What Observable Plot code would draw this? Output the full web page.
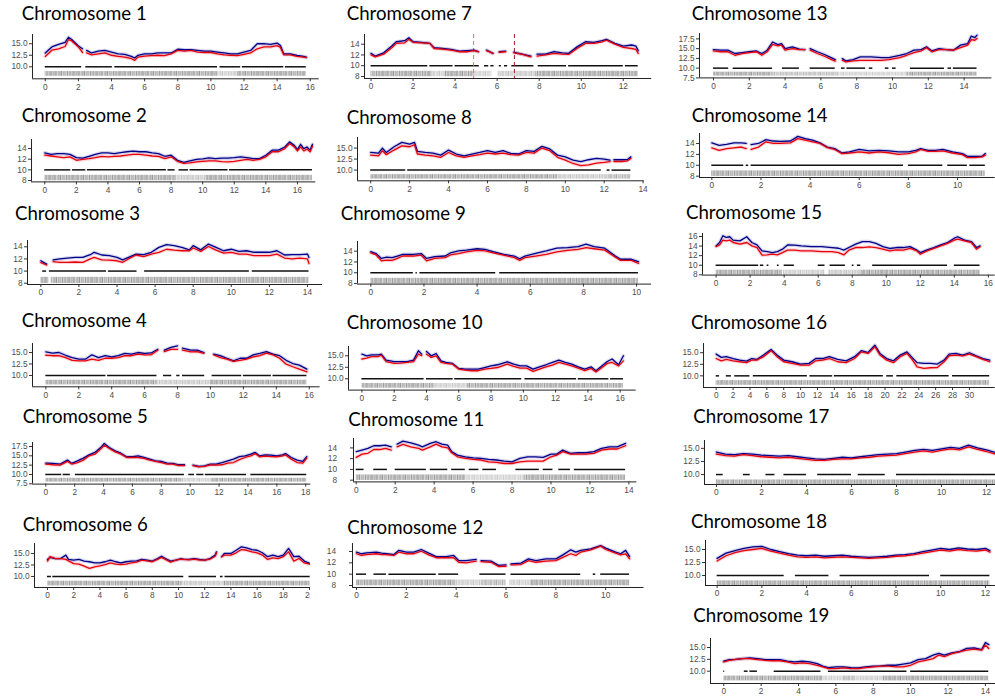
<!DOCTYPE html>
<html>
<head>
<meta charset="utf-8">
<script src="https://cdn.jsdelivr.net/npm/d3@7"></script>
<script src="https://cdn.jsdelivr.net/npm/@observablehq/plot@0.6"></script>
<style>
  body { margin: 0; background: #fff; }
  #chart { position: relative; width: 995px; height: 698px; overflow: hidden; background: #fff; }
  #chart > svg.panel { position: absolute; }
  #titles { position: absolute; left: 0; top: 0; pointer-events: none; }
  #titles text { font-family: Lato, "Open Sans", sans-serif; font-size: 18.6px; fill: #000; }
</style>
</head>
<body>
<div id="chart"></div>
<script>
// ---- tick values ----
const xTicks10 = [0, 2, 4, 6, 8, 10];
const xTicks12 = [0, 2, 4, 6, 8, 10, 12];
const xTicks14 = [0, 2, 4, 6, 8, 10, 12, 14];
const xTicks16 = [0, 2, 4, 6, 8, 10, 12, 14, 16];
const xTicks18 = [0, 2, 4, 6, 8, 10, 12, 14, 16, 18];
const xTicks20 = [0, 2, 4, 6, 8, 10, 12, 14, 16, 18, 20];
const xTicks30 = [0, 2, 4, 6, 8, 10, 12, 14, 16, 18, 20, 22, 24, 26, 28, 30];
const yTicksEven = [8, 10, 12, 14];
const yTicksEven16 = [8, 10, 12, 14, 16];
const yTicksHalf = [10, 12.5, 15];
const yTicksHalfWide = [7.5, 10, 12.5, 15, 17.5];

// ---- chromosome 1 ----
const chr1Pos = [0,0.4,0.8,1.2,1.4,1.6,2.0,2.25,2.37,2.5, 2.8,3.2,3.6,4.0,4.4,4.8,5.2,5.4,5.6,6.0, 6.4,6.8,7.2,7.6,8.0,8.4,8.8,9.2,9.6,10.0, 10.4,10.8,11.2,11.6,12.0,12.4,12.8,13.2,13.6,14.0, 14.2,14.4,14.8,15.2,15.6,15.76];
const chr1Blue = [13.0,14.3,14.85,15.3,16.4,15.9,14.5,13.9,null,13.55, 13.0,13.4,13.55,13.2,12.8,12.7,12.25,11.9,12.5,12.8, 12.8,13.0,13.0,13.0,13.8,13.7,13.7,13.55,13.4,13.4, 13.2,13.0,12.8,12.8,13.2,13.55,15.0,15.0,14.85,15.15, 14.6,12.8,12.8,12.45,12.25,12.1];
const chr1Red = [12.25,13.6,13.9,14.4,15.9,15.6,14.3,13.1,null,13.0, 12.6,12.8,13.0,12.5,12.25,12.1,11.75,11.4,12.1,12.3, 12.4,12.5,12.4,12.8,13.55,13.4,13.55,13.2,13.1,13.1, 12.8,12.6,12.5,12.4,12.7,13.0,13.9,14.3,14.3,14.6, 14.2,12.6,12.6,12.25,12.1,12.0];
const chr1Dash = [[0,2.2],[2.45,4.05],[4.2,10.4],[10.55,11.8],[11.9,14.4],[14.5,15.76]];
const chr1Rug = [[0,10.4,1],[10.4,11.6,0.55],[11.6,15.76,1]];

// ---- chromosome 2 ----
const chr2Pos = [0,0.4,0.8,1.2,1.6,2.0,2.4,2.8,3.2,3.6, 4.0,4.4,4.8,5.2,5.6,6.0,6.4,6.8,7.2,7.6, 8.0,8.4,8.8,9.2,9.6,10.0,10.4,10.8,11.2,11.6, 12.0,12.4,12.8,13.2,13.6,14.0,14.4,14.8,15.2, 15.5,15.8,16.0,16.2,16.4,16.6,16.8,16.95];
const chr2Blue = [13.2,12.9,13.05,13.05,12.9,12.3,12.2,12.55,12.9,13.2, 13.2,13.05,13.25,13.4,13.5,13.4,13.4,13.2,13.05,12.55, 12.75,11.8,11.4,11.7,11.95,12.05,12.25,12.1,12.2,12.2, 12.3,12.45,12.3,12.1,12.1,12.75,13.7,13.7,14.3, 15.25,14.6,13.8,14.8,14.0,14.3,13.7,14.8];
const chr2Red = [12.75,12.6,12.45,12.3,12.45,11.8,11.95,12.1,12.3,12.55, 12.45,12.55,12.6,12.75,12.9,12.9,12.75,12.6,12.55,12.1, 12.45,11.6,11.2,11.3,11.5,11.6,11.7,11.7,11.55,11.5, 11.6,11.8,11.95,11.8,11.95,12.45,13.4,13.4,14.0, 14.95,14.3,13.55,14.3,13.55,13.9,13.4,14.45];
const chr2Dash = [[0,1.65],[1.75,2.6],[2.7,7.7],[7.8,8.25],[8.5,9.1],[9.2,11.6],[11.7,16.95]];
const chr2Rug = [[0,8.3,1],[8.3,10.2,0.6],[10.2,16.95,1]];

// ---- chromosome 3 ----
const chr3Pos = [0,0.3,0.5,0.65,1.0,1.4,1.8,2.2,2.6,2.8, 3.2,3.6,4.0,4.3,4.6,5.0,5.4,5.8,6.2,6.6, 7.0,7.4,7.8,8.0,8.4,8.8,9.2,9.6,10.0,10.4, 10.8,11.2,11.6,12.0,12.4,12.8,13.2,13.6,14.0,14.08];
const chr3Blue = [11.7,11.15,null,11.85,12.0,12.15,12.25,12.25,12.7,13.1, 12.65,12.55,12.25,11.85,12.25,12.8,12.7,13.1,13.9,14.35, 14.2,13.9,13.5,14.2,13.5,14.45,13.9,13.35,13.6,13.25, 13.35,13.1,13.1,13.1,13.35,12.65,12.7,12.7,12.8,12.25];
const chr3Red = [11.4,11.0,null,11.55,11.45,11.45,11.5,11.45,12.0,12.25, 11.85,11.8,11.7,11.45,12.0,12.65,12.4,12.8,13.1,13.6, 13.45,13.35,13.35,13.8,13.25,14.05,13.45,12.95,13.1,12.8, 12.8,12.55,12.55,12.55,12.8,12.15,12.0,12.15,12.0,11.25];
const chr3Dash = [[0.1,0.3],[0.45,3.45],[3.55,5.05],[5.45,10.95],[11.1,14.08]];
const chr3Rug = [[0,0.42,1],[0.55,14.08,1]];

// ---- chromosome 4 ----
const chr4Pos = [0,0.4,0.8,1.2,1.6,2.0,2.4,2.8,3.2,3.6, 4.0,4.4,4.8,5.2,5.6,6.0,6.4,6.8,7.0,7.2, 7.6,8.0,8.15,8.3,8.8,9.2,9.6,9.9,10.2,10.6, 11.0,11.4,11.8,12.2,12.6,13.0,13.4,13.8,14.2,14.6, 15.0,15.4,15.86];
const chr4Blue = [15.15,14.85,15.0,14.4,13.9,13.55,13.55,14.5,13.9,14.3, 14.05,14.3,14.8,14.65,15.0,14.8,14.9,15.7,null,15.5, 16.1,16.45,null,15.95,15.5,15.5,15.0,null,14.65,14.3, 13.75,13.2,13.75,13.75,14.5,14.8,15.2,14.65,14.3,13.3, 12.6,12.25,11.4];
const chr4Red = [14.4,14.3,14.3,13.9,13.3,13.2,13.2,13.55,13.3,13.75, 13.75,13.9,14.3,14.3,14.65,14.5,14.5,15.5,null,15.2, 15.7,15.7,null,15.5,15.15,15.2,14.8,null,14.5,13.9, 13.55,13.05,13.3,13.55,14.05,14.3,14.85,14.5,13.75,12.45, 11.9,11.4,10.8];
const chr4Dash = [[0,3.65],[3.75,6.75],[7.15,7.65],[7.95,8.15],[8.3,9.65],[10.1,11.9],[12.0,13.7],[13.8,15.86]];
const chr4Rug = [[0,6.8,1],[6.8,10,0.6],[10,15.86,1]];

// ---- chromosome 5 ----
const chr5Pos = [0,0.5,1.0,1.5,1.8,2.2,2.6,3.0,3.4,3.8, 4.05,4.4,4.8,5.2,5.6,6.0,6.4,6.8,7.2,7.6, 8.0,8.4,8.8,9.2,9.6,9.9,10.2,10.6,11.0,11.4, 11.8,12.2,12.6,13.0,13.4,13.8,14.2,14.5,14.8,15.2, 15.6,16.0,16.4,16.6,17.0,17.4,17.8,18.07];
const chr5Blue = [13.05,12.95,12.8,13.85,12.95,13.65,14.4,15.25,15.9,17.2, 18.3,17.2,16.35,15.7,14.75,14.75,15.0,14.55,14.1,13.65, 13.5,13.05,12.95,12.6,12.6,null,12.5,12.15,12.3,12.8, 12.8,13.2,13.65,14.1,14.8,15.0,15.45,15.9,15.0,15.25, 15.2,15.0,15.25,15.6,14.55,13.85,13.5,14.8];
const chr5Red = [12.8,12.6,12.5,13.5,12.8,13.2,13.85,15.0,15.45,16.8, 17.85,16.95,16.05,15.45,14.55,14.55,14.55,14.3,13.85,13.5, 13.2,12.8,12.8,12.4,12.4,null,12.4,12.05,12.15,12.6, 12.5,12.6,13.05,13.2,14.0,14.55,15.0,15.6,14.75,14.9, 14.8,14.75,15.0,15.25,14.1,13.2,13.05,14.4];
const chr5Dash = [[0,1.1],[1.2,1.7],[2.05,9.6],[9.9,10.3],[10.45,10.95],[11.05,13.9],[14.2,18.07]];
const chr5Rug = [[0,9.5,1],[9.5,11.5,0.55],[11.5,18.07,1]];

// ---- chromosome 6 ----
const chr6Pos = [0,0.2,0.6,1.0,1.4,1.6,2.0,2.4,2.8,3.2, 3.6,4.0,4.4,4.8,5.2,5.6,6.0,6.4,6.8,7.2, 7.6,8.0,8.4,8.7,9.0,9.4,9.8,10.2,10.4,10.8, 11.2,11.6,12.0,12.4,12.8,12.9,13.1,13.3,13.5,14.0, 14.4,14.8,15.2,15.6,16.0,16.4,16.8,17.2,17.6,18.0, 18.4,18.8,19.2,19.6,20.0];
const chr6Blue = [13.7,14.15,13.9,13.9,14.65,13.7,13.55,13.7,13.35,13.2, 12.95,12.95,13.2,13.55,13.2,12.95,13.2,13.35,13.4,13.7, 13.55,13.35,13.9,14.4,13.9,13.35,13.55,13.9,13.7,13.7, 13.9,13.7,13.55,13.9,14.65,15.35,null,14.3,15.0,15.0, 15.7,16.45,16.2,15.85,15.7,15.15,14.3,14.65,14.3,14.65, 16.1,14.3,14.4,13.35,12.85];
const chr6Red = [13.35,14.3,13.9,13.9,13.7,13.4,12.8,12.7,12.25,11.75, 12.1,12.3,12.6,12.95,12.7,12.6,12.7,12.95,13.1,13.55, 13.4,13.2,13.7,14.15,13.7,13.1,13.55,13.75,13.7,13.6, 13.75,13.55,13.55,13.75,14.4,15.15,null,14.3,14.65,14.65, 15.15,15.85,15.7,15.35,15.15,14.65,13.7,14.05,13.9,14.3, 15.35,13.35,13.9,12.95,12.7];
const chr6Dash = [[0,0.3],[0.4,10.4],[10.8,12.9],[13.2,13.4],[13.55,20.05]];
const chr6Rug = [[0,10.3,1],[10.3,13.5,0.6],[13.5,20.05,1]];

// ---- chromosome 7 ----
const chr7Pos = [0,0.2,0.6,1.0,1.2,1.6,1.8,2.0,2.4,2.8, 3.0,3.4,3.8,4.2,4.6,4.9,5.1,5.3,5.5,5.8, 5.95,6.1,6.4,6.6,6.8,7.2,7.6,7.75,7.9,8.3, 8.7,9.1,9.4,9.8,10.2,10.6,11.0,11.2,11.6,12.0, 12.4,12.6,12.71];
const chr7Blue = [12.3,11.8,12.4,13.7,14.45,14.65,15.2,14.45,14.35,14.15, 13.35,13.2,13.05,12.7,12.8,12.9,12.6,null,12.9,12.3, null,12.6,12.7,null,12.5,12.15,11.8,null,12.15,12.15, 12.6,12.4,12.3,13.5,14.45,14.35,14.65,14.9,14.15,13.65, 13.85,13.65,12.8];
const chr7Red = [12.0,11.65,12.15,13.4,14.15,14.25,14.9,14.35,14.25,14.15, 13.2,13.1,12.9,12.6,12.6,12.8,12.6,null,12.8,12.3, null,12.5,12.6,null,12.4,12.1,11.65,null,11.8,12.0, 12.3,12.15,12.1,13.2,14.15,14.15,14.45,14.75,14.0,13.4, 13.2,13.05,12.3];
const chr7Dash = [[0,2.7],[2.8,3.9],[4.0,5.15],[5.4,5.6],[5.7,5.85],[6.1,6.2],[6.35,6.5],[6.7,7.75],[7.95,9.3],[9.4,12.0],[12.1,12.71]];
const chr7Rug = [[0,2.9,1],[2.9,3.5,0.55],[3.5,4.9,1],[4.9,5.75,0.5],[6.05,7.8,0.6],[7.8,12.71,1]];
const chr7Marks = [4.88, 6.82];

// ---- chromosome 8 ----
const chr8Pos = [0,0.4,0.6,0.8,1.2,1.6,2.0,2.25,2.4,2.8, 3.2,3.6,4.0,4.4,4.8,5.2,5.6,6.0,6.4,6.8, 7.2,7.6,8.0,8.4,8.8,9.2,9.6,10.0,10.4,10.8, 11.2,11.6,12.0,12.3,12.4,12.5,12.9,13.2,13.37];
const chr8Blue = [14.0,13.85,15.0,14.0,15.3,16.3,15.9,16.3,14.25,14.0, 13.85,13.4,14.55,13.65,13.25,13.65,14.0,14.4,14.0,14.4, 13.8,13.65,14.4,14.25,15.4,14.8,13.4,13.0,12.25,11.9, 12.35,12.65,12.5,12.25,null,12.35,12.35,12.4,13.0];
const chr8Red = [13.4,13.25,14.4,13.5,14.55,15.5,15.3,15.75,13.65,13.4, 13.25,12.9,14.0,13.25,12.9,13.25,13.5,13.85,13.65,13.85, 13.5,13.4,14.0,13.85,15.0,14.4,12.9,12.25,11.5,11.0, 11.2,11.6,11.75,11.9,null,11.95,11.95,12.1,12.65];
const chr8Dash = [[0,1.8],[1.9,11.85],[12.15,12.3],[12.4,13.37]];
const chr8Rug = [[0,9.6,1],[9.6,12.2,0.6],[12.2,13.37,0.8]];

// ---- chromosome 9 ----
const chr9Pos = [0,0.2,0.4,0.6,0.8,1.0,1.2,1.6,1.9,2.1, 2.4,2.8,3.0,3.3,3.6,4.0,4.3,4.6,5.0,5.4, 5.6,5.8,6.2,6.6,7.0,7.4,7.8,8.1,8.4,8.8, 9.2,9.4,9.8,10.07];
const chr9Blue = [13.9,13.55,12.65,12.9,12.8,13.1,13.4,13.4,13.55,12.65, 13.0,13.1,13.7,14.05,14.2,14.45,14.35,13.9,13.4,13.1, 12.6,13.1,13.6,14.05,14.55,14.65,14.85,15.3,14.85,14.55, 13.1,12.5,12.5,12.05];
const chr9Red = [13.7,13.3,12.2,12.35,12.3,12.65,13.1,13.1,13.25,12.2, 12.65,12.8,13.3,13.55,13.85,14.15,14.05,13.7,13.25,12.8, 12.3,12.8,13.1,13.4,13.85,14.15,14.35,14.65,14.45,14.2, 12.9,12.3,12.3,11.75];
const chr9Dash = [[0,1.6],[1.7,1.75],[1.85,4.7],[4.85,10.07]];
const chr9Rug = [[0,10.07,1]];

// ---- chromosome 10 ----
const chr10Pos = [0,0.3,0.6,1.0,1.2,1.5,2.0,2.4,2.8,3.2, 3.5,3.7,3.85,4.0,4.3,4.6,4.9,5.2,5.6,6.0, 6.4,6.8,7.2,7.6,8.0,8.4,9.0,9.4,9.8,10.2, 10.6,11.0,11.4,11.8,12.2,12.6,13.0,13.4,13.8,14.2, 14.5,14.8,15.2,15.5,15.9,16.2];
const chr10Blue = [15.35,15.0,15.2,15.2,15.35,14.05,13.75,13.75,13.75,14.05, 16.1,15.35,null,15.95,15.0,15.5,13.9,13.55,13.35,12.25, 12.1,12.1,12.1,12.45,12.8,13.05,13.7,13.2,12.8,12.8, 12.1,12.6,13.05,13.55,14.05,13.55,13.2,12.6,12.1,12.6, 11.75,12.6,13.75,14.3,13.05,15.0];
const chr10Red = [14.3,14.5,14.8,14.8,15.15,13.75,13.35,13.4,13.55,13.75, 15.35,15.0,null,15.35,14.65,15.0,13.55,13.35,13.2,12.1, 11.9,11.75,11.75,12.1,12.25,12.45,13.2,12.7,12.3,12.3, 11.6,12.1,12.6,12.95,13.55,13.2,12.8,12.3,11.75,12.25, 11.5,12.25,13.35,13.55,12.8,13.9];
const chr10Dash = [[0,3.85],[4.0,5.65],[5.75,9.9],[10.1,13.3],[13.4,15.3],[15.4,16.2]];
const chr10Rug = [[0,4.5,1],[4.5,6.5,0.55],[6.5,16.2,1]];

// ---- chromosome 11 ----
const chr11Pos = [0,0.3,0.6,0.9,1.2,1.5,1.8,1.95,2.1,2.4, 2.8,3.2,3.4,3.8,4.1,4.4,4.7,4.9,5.2,5.6, 6.0,6.4,6.8,7.2,7.6,8.0,8.4,8.8,9.2,9.6, 10.0,10.3,10.6,11.0,11.4,11.8,12.2,12.6,13.0,13.4, 13.83];
const chr11Blue = [13.3,13.6,13.9,14.4,14.4,14.5,14.2,null,14.7,15.25, 14.95,14.5,14.2,14.85,15.15,14.7,14.5,13.3,12.65,12.35, 12.15,12.05,11.85,11.75,11.55,11.4,12.05,12.35,12.35,12.25, 12.85,12.85,13.6,13.0,13.1,13.1,13.3,13.9,14.2,14.2, 14.85];
const chr11Red = [12.25,12.85,13.0,13.7,13.7,13.9,13.6,null,14.2,14.65, 14.2,13.9,13.6,14.2,14.7,14.2,14.0,13.1,12.35,12.05, 11.85,11.75,11.4,11.3,11.1,11.1,11.4,11.55,11.55,11.55, 12.35,12.65,13.3,12.85,12.85,12.85,13.0,13.6,13.8,13.8, 14.4];
const chr11Dash = [[0,0.4],[0.9,1.6],[2.0,3.6],[3.8,4.7],[4.9,5.6],[5.8,6.3],[6.5,7.2],[8.2,9.4],[9.6,10.1],[10.4,11.0],[11.2,13.83]];
const chr11Rug = [[0,5.6,1],[5.6,8.6,0.5],[8.6,13.83,1]];

// ---- chromosome 12 ----
const chr12Pos = [0,0.2,0.4,0.8,1.0,1.2,1.5,1.7,2.0,2.3, 2.6,2.9,3.2,3.6,3.9,4.1,4.4,4.8,4.9,5.0, 5.4,5.7,6.0,6.1,6.2,6.6,6.9,7.2,7.6,8.0, 8.3,8.6,8.8,9.0,9.4,9.8,10.0,10.4,10.6,10.8, 10.96];
const chr12Blue = [13.9,13.6,13.75,13.9,13.7,13.6,13.45,14.2,13.9,13.9, 14.35,13.7,13.1,13.1,13.3,12.4,12.4,12.6,null,12.4, 12.3,11.55,11.65,null,11.8,11.95,12.7,12.4,12.7,12.7, 13.45,14.3,13.9,14.2,14.45,15.05,14.6,13.9,13.6,14.2, 13.1];
const chr12Red = [13.6,13.3,13.45,13.6,13.45,13.45,13.3,13.9,13.6,13.6, 14.05,13.4,12.9,12.9,12.9,12.1,12.0,12.3,null,12.2, 12.1,11.35,11.4,null,11.65,11.7,12.4,12.1,12.3,12.4, 13.0,13.6,13.3,13.9,14.3,14.95,14.35,13.7,13.4,13.6, 12.7];
const chr12Dash = [[0,0.4],[0.7,1.2],[1.3,3.2],[3.3,4.1],[4.95,6.0],[6.2,9.0],[9.5,9.6],[9.8,10.96]];
const chr12Rug = [[0,4.0,1],[4.0,5.0,0.55],[5.0,6.0,0.8],[6.15,7.0,0.55],[7.0,10.96,1]];

// ---- chromosome 13 ----
const chr13Pos = [0,0.4,0.8,1.2,1.6,2.0,2.4,2.7,3.0,3.3, 3.6,3.8,4.0,4.4,4.8,5.1,5.25,5.4,5.8,6.2, 6.6,6.8,7.0,7.2,7.4,7.8,8.2,8.8,9.4,9.8, 10.4,10.8,11.2,11.6,11.9,12.2,12.6,13.0,13.4,13.8, 14.2,14.4,14.6,14.72];
const chr13Blue = [14.75,14.6,14.6,13.75,14.0,14.2,14.4,13.75,14.6,16.7, 16.05,16.3,15.0,15.45,14.85,14.75,null,15.0,14.2,13.5, 12.65,12.2,null,12.45,11.85,12.2,12.9,12.9,12.7,12.7, 13.3,13.75,14.6,14.75,15.45,14.4,15.0,14.75,14.6,15.9, 16.3,18.2,17.85,18.45];
const chr13Red = [14.4,14.2,14.2,13.3,13.75,14.0,14.2,13.3,14.2,16.1, 15.7,15.9,14.6,15.0,14.75,14.75,null,14.6,13.75,13.05, 12.2,11.8,null,12.0,11.6,11.85,12.0,12.0,12.0,12.2, 12.7,13.3,14.0,14.4,15.25,14.2,14.75,14.75,14.6,15.25, 15.9,17.3,17.15,17.6];
const chr13Dash = [[0,0.85],[1.1,3.3],[3.85,4.8],[5.4,6.8],[7.15,7.35],[7.45,8.5],[8.7,8.9],[9.6,9.8],[10.0,10.2],[11.0,12.9],[13.1,13.3],[13.4,14.72]];
const chr13Rug = [[0,3.3,1],[3.3,7.0,0.7],[7.0,10.8,0.5],[10.8,14.72,1]];

// ---- chromosome 14 ----
const chr14Pos = [0,0.3,0.6,0.9,1.2,1.4,1.5,1.6,1.9,2.2, 2.5,2.8,3.2,3.5,3.8,4.1,4.4,4.7,5.0,5.3, 5.6,6.0,6.4,6.8,7.2,7.6,8.0,8.3,8.5,8.8, 9.1,9.4,9.8,10.2,10.4,10.7,11.0,11.13];
const chr14Blue = [14.1,13.65,13.85,14.1,14.1,14.0,null,13.8,14.0,14.7, 14.45,14.4,14.45,15.3,14.9,14.6,14.1,13.35,13.05,12.25, 12.45,12.9,12.65,12.75,12.65,12.45,12.45,12.75,13.05,12.75, 12.75,12.9,12.45,12.15,11.65,11.65,11.65,12.15];
const chr14Red = [13.2,12.75,13.05,13.2,13.35,13.05,null,12.9,13.35,14.3, 14.0,14.0,14.1,14.9,14.6,14.3,14.0,13.25,12.9,12.15, 12.25,12.45,12.25,12.45,12.3,12.0,12.15,12.45,12.9,12.55, 12.55,12.65,12.25,11.95,11.4,11.4,11.55,11.85];
const chr14Dash = [[0,1.3],[1.4,1.5],[1.6,7.8],[8.0,9.4],[9.6,10.4],[10.5,11.13]];
const chr14Rug = [[0,11.13,1]];

// ---- chromosome 15 ----
const chr15Pos = [0,0.2,0.4,0.6,0.8,1.0,1.4,1.8,2.1,2.4, 2.7,3.0,3.3,3.6,3.9,4.2,4.6,5.0,5.6,6.2, 6.8,7.2,7.5,7.8,8.2,8.6,9.0,9.4,9.8,10.2, 10.6,11.0,11.4,11.8,12.0,12.4,12.8,13.2,13.6,14.0, 14.2,14.6,15.0,15.3,15.51];
const chr15Blue = [14.05,14.75,16.15,15.8,15.95,15.25,15.1,15.95,14.75,14.25, 13.0,12.85,12.65,12.85,13.35,14.25,14.2,14.05,13.9,13.9, 13.7,13.55,13.15,13.7,14.4,14.95,14.95,14.55,13.9,13.5, 13.7,13.7,13.9,13.15,12.65,13.2,13.7,14.25,14.75,15.65, 15.95,15.25,14.95,13.7,14.05];
const chr15Red = [13.9,14.25,15.25,15.1,15.25,14.75,14.4,14.75,14.05,13.7, 12.1,12.15,12.3,12.15,12.65,13.15,13.15,13.0,13.0,12.85, 12.85,12.65,12.15,13.15,13.7,13.7,13.85,13.7,13.35,13.0, 13.2,13.15,13.5,13.0,12.3,13.0,13.5,14.05,14.55,15.25, 15.45,15.1,14.75,13.35,13.85];
const chr15Dash = [[0,2.5],[2.6,2.8],[3.0,3.1],[3.6,3.7],[4.0,4.6],[6.0,6.4],[6.7,7.6],[8.0,8.1],[8.3,8.5],[9.2,13.6],[14.0,15.51]];
const chr15Rug = [[0,3.9,1],[3.95,6.4,0.55],[6.6,8.5,0.6],[8.5,15.51,1]];

// ---- chromosome 16 ----
const chr16Pos = [0,0.6,1.2,2.0,2.8,3.6,4.2,4.8,5.6,6.5, 7.2,8.0,9.0,10.0,11.0,11.8,12.6,13.4,14.4,15.4, 16.4,17.2,18.0,18.8,19.4,20.2,21.0,21.8,22.6,23.2, 23.8,24.6,25.4,26.2,27.0,27.6,28.4,29.2,30.0,30.8, 31.6,32.4];
const chr16Blue = [14.7,14.0,14.15,13.75,13.4,13.2,13.75,13.55,14.5,15.7, 14.5,13.4,13.05,12.55,12.7,13.75,13.75,14.15,13.55,13.25, 14.15,15.45,15.05,16.65,14.85,13.75,13.25,14.5,15.2,14.0, 12.85,12.7,12.7,12.55,13.4,14.7,14.85,14.5,15.0,14.35, 13.75,13.4];
const chr16Red = [13.75,13.25,13.55,13.25,13.05,12.85,13.4,13.4,14.15,15.45, 14.15,13.05,12.7,12.3,12.3,13.25,13.4,13.75,13.05,12.85, 13.75,15.2,14.85,16.3,14.5,13.4,12.85,14.15,14.85,13.55, 11.95,11.6,11.75,11.8,13.05,14.35,14.5,14.3,14.7,14.15, 13.55,13.05];
const chr16Dash = [[0,0.4],[1.2,1.8],[2.2,4.0],[4.4,10.8],[11.1,13.8],[14.0,19.8],[20.2,21.0],[21.4,27.6],[28.0,32.4]];
const chr16Rug = [[0,32.4,1]];

// ---- chromosome 17 ----
const chr17Pos = [0,0.4,0.8,1.2,1.6,2.0,2.4,2.8,3.2,3.6, 4.0,4.4,4.8,5.2,5.6,6.0,6.4,6.8,7.2,7.6, 8.0,8.4,8.8,9.2,9.6,10.0,10.4,10.8,11.2,11.6, 12.0,12.4];
const chr17Blue = [14.3,13.9,13.8,14.0,13.9,13.7,13.6,13.5,13.6,13.4, 13.2,13.0,12.9,13.1,13.3,13.2,13.4,13.6,13.8,13.9, 14.0,14.3,14.6,14.8,14.6,14.9,15.2,15.0,15.6,15.1, 14.7,14.2];
const chr17Red = [13.9,13.6,13.5,13.8,13.6,13.4,13.3,13.2,13.3,13.1, 12.9,12.7,12.7,12.9,13.0,13.0,13.2,13.3,13.5,13.6, 13.7,14.0,14.3,14.5,14.3,14.6,14.9,14.7,15.3,14.8, 14.4,13.9];
const chr17Dash = [[0,0.3],[1.2,1.5],[2.2,2.6],[3.0,4.0],[4.5,6.0],[6.3,7.5],[8.0,12.4]];
const chr17Rug = [[0,12.4,1]];

// ---- chromosome 18 ----
const chr18Pos = [0,0.4,0.8,1.2,1.6,2.0,2.4,2.8,3.2,3.6, 4.0,4.4,4.8,5.2,5.6,6.0,6.4,6.8,7.2,7.6, 8.0,8.4,8.8,9.2,9.6,10.0,10.4,10.8,11.2,11.6, 12.0,12.2];
const chr18Blue = [13.3,14.3,14.8,15.2,15.5,15.6,15.0,14.6,14.2,13.9, 13.8,13.9,13.7,13.8,13.9,13.7,13.6,13.5,13.6,13.7, 13.9,14.0,14.2,14.6,14.9,15.2,15.0,15.3,15.1,15.0, 15.2,14.8];
const chr18Red = [12.8,13.8,14.4,14.8,15.0,15.2,14.7,14.3,13.9,13.6, 13.5,13.6,13.4,13.5,13.6,13.5,13.4,13.3,13.4,13.5, 13.7,13.8,14.0,14.3,14.6,14.9,14.7,15.0,14.8,14.7, 14.9,14.5];
const chr18Dash = [[0,3.0],[3.5,5.0],[5.5,9.5],[10.0,12.2]];
const chr18Rug = [[0,12.2,1]];

// ---- chromosome 19 ----
const chr19Pos = [0,0.3,0.6,1.0,1.4,1.8,2.2,2.6,3.0,3.4, 3.8,4.2,4.6,5.0,5.3,5.6,6.0,6.4,6.8,7.2, 7.6,8.0,8.4,8.8,9.2,9.6,10.0,10.4,10.8,11.2, 11.5,11.8,12.2,12.6,13.0,13.4,13.8,14.0,14.18];
const chr19Blue = [12.1,12.45,12.5,12.65,12.8,12.65,12.45,12.45,12.45,12.1, 11.95,12.1,11.95,11.6,11.05,10.75,10.9,10.9,10.75,10.7, 10.9,11.05,11.1,11.25,11.25,11.5,11.75,12.45,12.65,13.4, 13.75,13.4,13.85,14.1,14.8,14.9,14.55,16.05,15.6];
const chr19Red = [11.95,12.3,12.45,12.65,12.65,12.45,12.3,12.2,12.2,11.95, 11.6,11.75,11.6,11.25,10.9,10.55,10.55,10.7,10.55,10.55, 10.75,10.9,11.05,11.05,10.9,10.9,11.25,11.95,12.3,12.65, 13.4,13.05,13.7,14.1,14.45,14.65,14.45,15.5,14.8];
const chr19Dash = [[0,0.05],[1.1,1.3],[1.4,1.8],[2.7,5.2],[5.6,9.8],[10.0,14.18]];
const chr19Rug = [[0,5.3,1],[5.3,6.4,0.5],[6.4,7.0,0.8],[7.0,8.5,0.55],[8.5,14.18,1]];

// ---- panel placement (pixel frame of each plot area, and its scale domains) ----
const panels = [
  {name: "Chromosome 1", pos: chr1Pos, blue: chr1Blue, red: chr1Red, dash: chr1Dash, rug: chr1Rug, title: [21.7, 20], frame: [32.3, 34, 319, 78.3], x: [-0.77, 16.54], y: [7.4, 17.0], xt: xTicks16, yt: yTicksHalf},
  {name: "Chromosome 2", pos: chr2Pos, blue: chr2Blue, red: chr2Red, dash: chr2Dash, rug: chr2Rug, title: [21.7, 121.7], frame: [30.7, 139.3, 315, 181.7], x: [-0.84, 17.16], y: [7.74, 15.7], xt: xTicks16, yt: yTicksEven},
  {name: "Chromosome 3", pos: chr3Pos, blue: chr3Blue, red: chr3Red, dash: chr3Dash, rug: chr3Rug, title: [15, 220], frame: [26.7, 240, 321.7, 284], x: [-0.7, 14.79], y: [7.79, 15.04], xt: xTicks14, yt: yTicksEven},
  {name: "Chromosome 4", pos: chr4Pos, blue: chr4Blue, red: chr4Red, dash: chr4Dash, rug: chr4Rug, title: [21.7, 327.3], frame: [31.7, 342.7, 319.3, 386], x: [-0.81, 16.66], y: [7.54, 16.96], xt: xTicks16, yt: yTicksHalf},
  {name: "Chromosome 5", pos: chr5Pos, blue: chr5Blue, red: chr5Red, dash: chr5Dash, rug: chr5Rug, title: [22.7, 423.3], frame: [31.7, 441.7, 310, 483.3], x: [-0.92, 18.35], y: [7.42, 18.57], xt: xTicks18, yt: yTicksHalfWide},
  {name: "Chromosome 6", pos: chr6Pos, blue: chr6Blue, red: chr6Red, dash: chr6Dash, rug: chr6Rug, title: [22.7, 530.7], frame: [34.3, 543.3, 312, 587.3], x: [-0.99, 20.2], y: [7.6, 17.17], xt: xTicks20, yt: yTicksHalf, clipRight: 310},
  {name: "Chromosome 7", pos: chr7Pos, blue: chr7Blue, red: chr7Red, dash: chr7Dash, rug: chr7Rug, marks: chr7Marks, title: [346.7, 20], frame: [363.5, 34.3, 650.7, 78.3], x: [-0.31, 13.35], y: [7.63, 15.8], xt: xTicks12, yt: yTicksEven},
  {name: "Chromosome 8", pos: chr8Pos, blue: chr8Blue, red: chr8Red, dash: chr8Dash, rug: chr8Rug, title: [346.7, 124], frame: [356.7, 136.7, 643.3, 180], x: [-0.68, 14.05], y: [7.57, 17.4], xt: xTicks14, yt: yTicksHalf},
  {name: "Chromosome 9", pos: chr9Pos, blue: chr9Blue, red: chr9Red, dash: chr9Dash, rug: chr9Rug, title: [340.7, 220], frame: [356.7, 240.7, 650.7, 283.3], x: [-0.5, 10.56], y: [7.9, 15.79], xt: xTicks10, yt: yTicksEven},
  {name: "Chromosome 10", pos: chr10Pos, blue: chr10Blue, red: chr10Red, dash: chr10Dash, rug: chr10Rug, title: [346.7, 329.3], frame: [348.3, 345.7, 636, 389.3], x: [-0.83, 16.99], y: [7.54, 17.02], xt: xTicks16, yt: yTicksHalf},
  {name: "Chromosome 11", pos: chr11Pos, blue: chr11Blue, red: chr11Red, dash: chr11Dash, rug: chr11Rug, title: [348.3, 426], frame: [353.3, 438.3, 636.7, 481.7], x: [-0.14, 14.41], y: [7.68, 15.75], xt: xTicks14, yt: yTicksEven, yPad: 13.5},
  {name: "Chromosome 12", pos: chr12Pos, blue: chr12Blue, red: chr12Red, dash: chr12Dash, rug: chr12Rug, title: [347.3, 534], frame: [351.7, 543.3, 643.3, 587.3], x: [-0.16, 11.54], y: [7.65, 15.41], xt: xTicks10, yt: yTicksEven, yPad: 13.5},
  {name: "Chromosome 13", pos: chr13Pos, blue: chr13Blue, red: chr13Red, dash: chr13Dash, rug: chr13Rug, title: [691.7, 20], frame: [699.3, 33.3, 991.7, 77.7], x: [-0.78, 15.55], y: [7.5, 18.88], xt: xTicks14, yt: yTicksHalfWide},
  {name: "Chromosome 14", pos: chr14Pos, blue: chr14Blue, red: chr14Red, dash: chr14Dash, rug: chr14Rug, title: [691.7, 121.7], frame: [699.3, 133.3, 995, 177.3], x: [-0.5, 11.53], y: [7.76, 15.83], xt: xTicks10, yt: yTicksEven},
  {name: "Chromosome 15", pos: chr15Pos, blue: chr15Blue, red: chr15Red, dash: chr15Dash, rug: chr15Rug, title: [686, 219.3], frame: [702.3, 232.7, 995, 274.3], x: [-0.8, 16.4], y: [7.94, 16.63], xt: xTicks16, yt: yTicksEven16},
  {name: "Chromosome 16", pos: chr16Pos, blue: chr16Blue, red: chr16Red, dash: chr16Dash, rug: chr16Rug, title: [691, 329], frame: [703.3, 343.3, 995, 387.3], x: [-1.5, 33.05], y: [7.48, 17.0], xt: xTicks30, yt: yTicksHalf},
  {name: "Chromosome 17", pos: chr17Pos, blue: chr17Blue, red: chr17Red, dash: chr17Dash, rug: chr17Rug, title: [693.3, 423.3], frame: [704, 440, 995, 484], x: [-0.53, 12.4], y: [8.1, 16.5], xt: xTicks12, yt: yTicksHalf},
  {name: "Chromosome 18", pos: chr18Pos, blue: chr18Blue, red: chr18Red, dash: chr18Dash, rug: chr18Rug, title: [691, 528], frame: [705, 540, 995, 585], x: [-0.52, 12.45], y: [8.08, 16.73], xt: xTicks12, yt: yTicksHalf},
  {name: "Chromosome 19", pos: chr19Pos, blue: chr19Blue, red: chr19Red, dash: chr19Dash, rug: chr19Rug, title: [693.3, 621.7], frame: [710, 638.3, 995, 683.3], x: [-0.71, 14.54], y: [7.4, 16.9], xt: xTicks14, yt: yTicksHalf}
];

const chart = document.getElementById("chart");

// dense striped fill used for the marker rug under each track
chart.insertAdjacentHTML("beforeend", `<svg width="0" height="0" style="position:absolute"><defs>
<pattern id="rugTicks" patternUnits="userSpaceOnUse" width="23" height="40">
<rect width="23" height="40" fill="#e8e8e8"/>
<rect x="0" width="0.8" height="40" fill="#8f8f8f"/>
<rect x="1.5" width="0.6" height="40" fill="#b3b3b3"/>
<rect x="2.6" width="0.9" height="40" fill="#7d7d7d"/>
<rect x="3.9" width="0.5" height="40" fill="#c2c2c2"/>
<rect x="4.8" width="0.8" height="40" fill="#999999"/>
<rect x="6.1" width="0.6" height="40" fill="#888888"/>
<rect x="7.2" width="1.0" height="40" fill="#a6a6a6"/>
<rect x="8.8" width="0.6" height="40" fill="#777777"/>
<rect x="9.9" width="0.8" height="40" fill="#b0b0b0"/>
<rect x="11.2" width="0.6" height="40" fill="#8a8a8a"/>
<rect x="12.3" width="0.9" height="40" fill="#9e9e9e"/>
<rect x="13.8" width="0.5" height="40" fill="#c0c0c0"/>
<rect x="14.7" width="0.8" height="40" fill="#808080"/>
<rect x="16.0" width="0.6" height="40" fill="#a8a8a8"/>
<rect x="17.1" width="0.9" height="40" fill="#939393"/>
<rect x="18.6" width="0.6" height="40" fill="#b8b8b8"/>
<rect x="19.6" width="0.8" height="40" fill="#848484"/>
<rect x="21.0" width="0.6" height="40" fill="#a3a3a3"/>
<rect x="22.1" width="0.6" height="40" fill="#c4c4c4"/>
</pattern></defs></svg>`);

const BLUE = "#00008b";
const RED = "#e8000b";
const ml = 34, mr = 12, mt = 4, mb = 18;

for (const p of panels) {
  const [L, T, R, B] = p.frame;
  const pts = p.pos.map((x, i) => ({x, blue: p.blue[i], red: p.red[i]}));
  const dash = p.dash.map(([a, b]) => ({a, b}));
  const rug = p.rug.map(([a, b, o]) => ({a, b, o}));
  const yFmt = p.yt.some(v => !Number.isInteger(v)) ? d3.format(".1f") : d3.format("d");
  const marks = [
    Plot.rect(rug, {x1: "a", x2: "b", y1: 7.95, y2: 8.97, fill: "url(#rugTicks)", fillOpacity: "o"}),
    Plot.ruleY(dash, {x1: "a", x2: "b", y: 10, stroke: "#111", strokeWidth: 1.5})
  ];
  if (p.marks) {
    marks.push(Plot.ruleX(p.marks, {stroke: (d, i) => i === 0 ? "#cc7a78" : "#a01c1c", strokeWidth: 1, strokeDasharray: "4,3"}));
  }
  marks.push(
    Plot.line(pts, {x: "x", y: "blue", stroke: BLUE, strokeWidth: 3.6, strokeOpacity: 0.16}),
    Plot.line(pts, {x: "x", y: "red", stroke: RED, strokeWidth: 3.6, strokeOpacity: 0.16}),
    Plot.line(pts, {x: "x", y: "blue", stroke: BLUE, strokeWidth: 1.3}),
    Plot.line(pts, {x: "x", y: "red", stroke: RED, strokeWidth: 1.3}),
    Plot.ruleX([p.x[0]], {stroke: "#222", strokeWidth: 1}),
    Plot.ruleY([p.y[0]], {stroke: "#222", strokeWidth: 1}),
    Plot.axisX(p.xt, {tickSize: 3, tickPadding: 2, stroke: "#333", fill: "#4d4d4d", fontSize: 8.3, tickFormat: "d"}),
    Plot.axisY(p.yt, {tickSize: 3, tickPadding: p.yPad ?? 2, stroke: "#333", fill: "#4d4d4d", fontSize: 8.3, tickFormat: yFmt})
  );
  const svg = Plot.plot({
    width: R - L + ml + mr,
    height: B - T + mt + mb,
    marginLeft: ml, marginRight: mr, marginTop: mt, marginBottom: mb,
    style: {background: "none", overflow: "visible", fontFamily: "'Liberation Sans', Arial, sans-serif", fontSize: "8.3px"},
    x: {domain: p.x, label: null},
    y: {domain: p.y, label: null},
    marks
  });
  svg.classList.add("panel");
  svg.style.left = (L - ml) + "px";
  svg.style.top = (T - mt) + "px";
  svg.style.maxWidth = "none";
  if (p.clipRight) {
    const w = R - L + ml + mr;
    svg.style.clipPath = `inset(-60px ${w - (p.clipRight - (L - ml))}px -60px -60px)`;
  }
  chart.appendChild(svg);
}

// panel titles, each set to the width it occupies in the layout
const ns = "http://www.w3.org/2000/svg";
const tsvg = document.createElementNS(ns, "svg");
tsvg.setAttribute("id", "titles");
tsvg.setAttribute("width", 995);
tsvg.setAttribute("height", 698);
for (const p of panels) {
  const t = document.createElementNS(ns, "text");
  t.setAttribute("x", p.title[0]);
  t.setAttribute("y", p.title[1]);
  t.setAttribute("textLength", p.name.length > 12 ? 136 : 125);
  t.setAttribute("lengthAdjust", "spacingAndGlyphs");
  t.textContent = p.name;
  tsvg.appendChild(t);
}
chart.appendChild(tsvg);
</script>
</body>
</html>
